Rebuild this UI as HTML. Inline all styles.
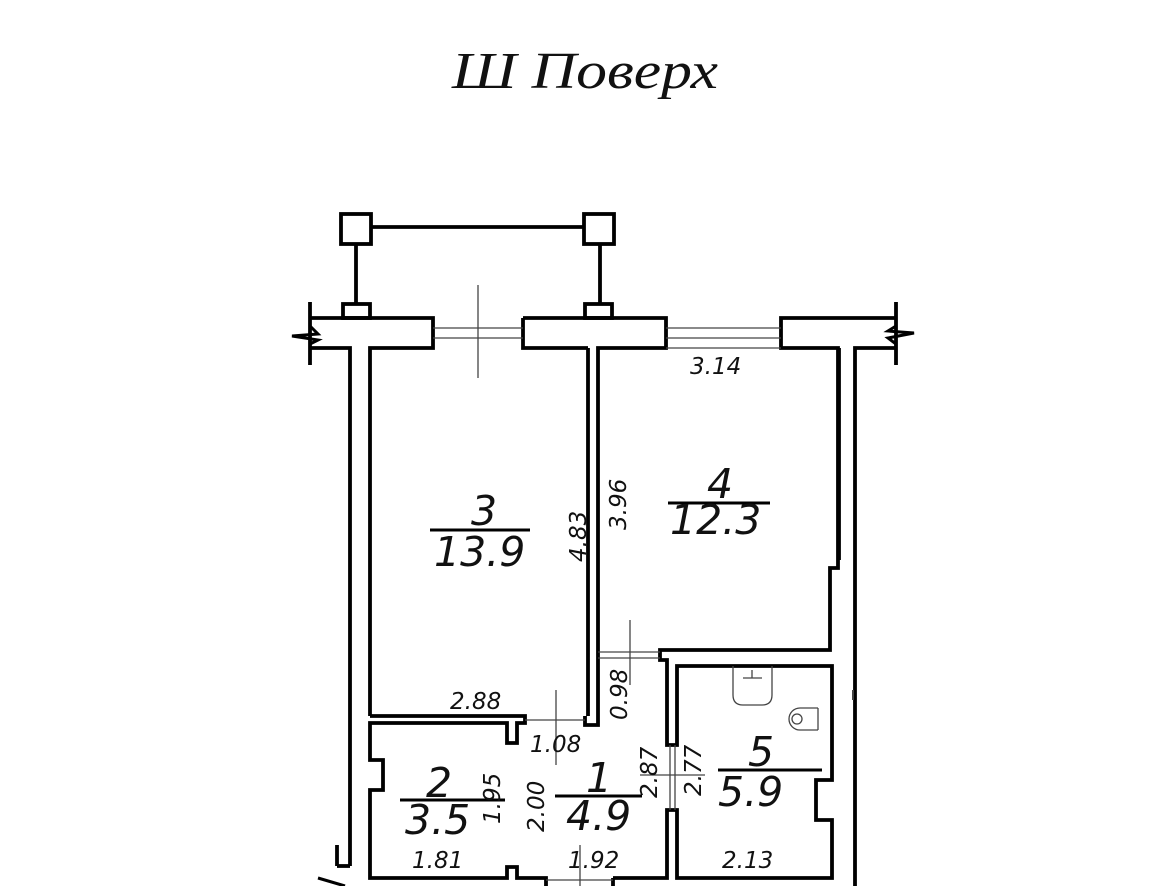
<!DOCTYPE html>
<html><head><meta charset="utf-8"><style>
html,body{margin:0;padding:0;background:#fff;}
svg{display:block;}
.d{font-family:"DejaVu Sans","Liberation Sans",sans-serif;font-style:italic;font-size:23px;fill:#111;}
.b{font-family:"DejaVu Sans","Liberation Sans",sans-serif;font-style:italic;font-size:41px;fill:#111;}
</style></head><body>
<svg width="1150" height="886" viewBox="0 0 1150 886" xmlns="http://www.w3.org/2000/svg">
<text x="452" y="88" textLength="266" lengthAdjust="spacingAndGlyphs" font-family="Liberation Serif, serif" font-style="italic" font-size="52" fill="#111">Ш Поверх</text>
<g fill="none" stroke="#000" stroke-width="3.8">
<rect x="341" y="214" width="30" height="30"/><rect x="584" y="214" width="30" height="30"/>
<line x1="371" y1="227" x2="584" y2="227"/>
<line x1="356" y1="244" x2="356" y2="304"/><line x1="600" y1="244" x2="600" y2="304"/>
<rect x="343" y="304" width="27" height="14"/><rect x="585" y="304" width="27" height="14"/>
<polyline points="310,318 433,318 433,348 370,348 370,716"/>
<polyline points="310,348 350,348 350,866"/>
<polyline points="523,318 666,318 666,348 598,348 598,725 585,725 585,716"/>
<polyline points="588,348 523,348 523,318"/>
<line x1="588" y1="348" x2="588" y2="716"/>
<polyline points="896,318 781,318 781,348 838,348 838,568 830,568 830,650 660,650 660,660 667,660 667,745 677,745 677,666 832,666 832,780 816,780 816,820 832,820 832,878 677,878 677,810 667,810 667,878 613,878"/>
<polyline points="896,348 855,348 855,886"/>
<line x1="839" y1="348" x2="839" y2="560"/>
<polyline points="370,716 525,716 525,723 517,723 517,743 507,743 507,723 370,723 370,760 383,760 383,790 370,790 370,878 507,878 507,867 517,867 517,878 546,878 546,886"/>
<line x1="613" y1="878" x2="613" y2="886"/>
<line x1="310" y1="302" x2="310" y2="365"/><line x1="896" y1="302" x2="896" y2="365"/>
<line x1="337" y1="866" x2="350" y2="866"/><line x1="337" y1="866" x2="337" y2="845"/>
</g>
<g fill="none" stroke="#000" stroke-width="3">
<path d="M310,326 L318,334 L292,336 L318,340 L310,344"/><path d="M896,326 L888,331 L914,333 L888,338 L896,344"/>
<path d="M318,878 L345,886"/>
</g>
<g stroke="#444" stroke-width="1.3" fill="none">
<line x1="433" y1="328" x2="523" y2="328"/><line x1="433" y1="338" x2="523" y2="338"/>
<line x1="666" y1="328" x2="781" y2="328"/><line x1="666" y1="338" x2="781" y2="338"/>
<line x1="666" y1="348" x2="781" y2="348"/>
<line x1="478" y1="285" x2="478" y2="378"/>
<line x1="598" y1="652" x2="660" y2="652"/><line x1="598" y1="658" x2="660" y2="658"/>
<line x1="630" y1="620" x2="630" y2="685"/>
<line x1="525" y1="720" x2="585" y2="720"/>
<line x1="556" y1="690" x2="556" y2="765"/>
<line x1="546" y1="880" x2="613" y2="880"/><line x1="580" y1="845" x2="580" y2="886"/>
<line x1="670" y1="745" x2="670" y2="810"/><line x1="675" y1="745" x2="675" y2="810"/>
<line x1="640" y1="775" x2="705" y2="775"/>
<line x1="853" y1="690" x2="853" y2="700" stroke-width="2"/>
<path d="M733,666 L733,695 Q733,705 743,705 L762,705 Q772,705 772,695 L772,666"/>
<line x1="743" y1="678" x2="762" y2="678"/><line x1="752" y1="670" x2="752" y2="678"/>
<path d="M818,708 L800,708 A10,10 0 0 0 800,730 L818,730"/><circle cx="797" cy="719" r="5"/><line x1="818" y1="708" x2="818" y2="730"/>
</g>
<g stroke="#000" stroke-width="3">
<line x1="430" y1="530" x2="530" y2="530"/>
<line x1="668" y1="503" x2="770" y2="503"/>
<line x1="400" y1="800" x2="505" y2="800"/>
<line x1="555" y1="796" x2="642" y2="796"/>
<line x1="718" y1="770" x2="822" y2="770"/>
</g>
<text class="b" x="471" y="525">3</text><text class="b" x="434" y="566">13.9</text>
<text class="b" x="707" y="498">4</text><text class="b" x="670" y="534">12.3</text>
<text class="b" x="426" y="797">2</text><text class="b" x="405" y="834">3.5</text>
<text class="b" x="586" y="792">1</text><text class="b" x="566" y="830">4.9</text>
<text class="b" x="748" y="766">5</text><text class="b" x="718" y="806">5.9</text>
<text class="d" x="690" y="374">3.14</text>
<text class="d" x="450" y="709">2.88</text>
<text class="d" x="530" y="752">1.08</text>
<text class="d" x="412" y="868">1.81</text>
<text class="d" x="568" y="868">1.92</text>
<text class="d" x="722" y="868">2.13</text>
<text class="d" transform="translate(586,562) rotate(-90)">4.83</text>
<text class="d" transform="translate(626,530) rotate(-90)">3.96</text>
<text class="d" transform="translate(627,720) rotate(-90)">0.98</text>
<text class="d" transform="translate(500,824) rotate(-90)">1.95</text>
<text class="d" transform="translate(544,832) rotate(-90)">2.00</text>
<text class="d" transform="translate(657,798) rotate(-90)">2.87</text>
<text class="d" transform="translate(701,796) rotate(-90)">2.77</text>
</svg>
</body></html>
